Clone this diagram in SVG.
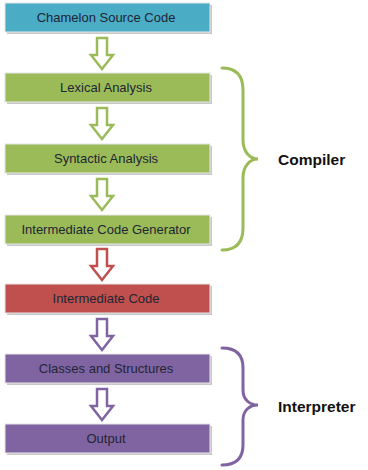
<svg xmlns="http://www.w3.org/2000/svg" width="368" height="470" viewBox="0 0 368 470">
<style>
.box{stroke:#e6e6e6;stroke-width:1}
.sh{fill:#c8c8c8}
.lbl{font-family:"Liberation Sans",Arial,sans-serif;font-size:13px;fill:#1e2633;text-anchor:middle}
.side{font-family:"Liberation Sans",Arial,sans-serif;font-size:15.5px;font-weight:bold;fill:#111}
.arr{fill:#fff;stroke-width:2.5;stroke-linejoin:miter}
.brace{fill:none;stroke-width:3;stroke-linecap:round}
</style>
<g id="n1"><rect class="sh" x="7" y="5" width="205" height="29"/><rect class="box" x="5" y="3" width="205" height="29" fill="#4BACC6"/><text class="lbl" x="106" y="22">Chamelon Source Code</text></g>
<g id="n2"><rect class="sh" x="7" y="75" width="205" height="29"/><rect class="box" x="5" y="73" width="205" height="29" fill="#9BBB59"/><text class="lbl" x="106" y="92">Lexical Analysis</text></g>
<g id="n3"><rect class="sh" x="7" y="146" width="205" height="29"/><rect class="box" x="5" y="144" width="205" height="29" fill="#9BBB59"/><text class="lbl" x="106" y="163">Syntactic Analysis</text></g>
<g id="n4"><rect class="sh" x="7" y="217" width="205" height="29"/><rect class="box" x="5" y="215" width="205" height="29" fill="#9BBB59"/><text class="lbl" x="106" y="234">Intermediate Code Generator</text></g>
<g id="n5"><rect class="sh" x="7" y="286" width="205" height="29"/><rect class="box" x="5" y="284" width="205" height="29" fill="#C0504D"/><text class="lbl" x="106" y="303">Intermediate Code</text></g>
<g id="n6"><rect class="sh" x="7" y="356" width="205" height="29"/><rect class="box" x="5" y="354" width="205" height="29" fill="#8064A2"/><text class="lbl" x="106" y="373">Classes and Structures</text></g>
<g id="n7"><rect class="sh" x="7" y="426" width="205" height="29"/><rect class="box" x="5" y="424" width="205" height="29" fill="#8064A2"/><text class="lbl" x="106" y="443">Output</text></g>
<g id="connectors">
<polygon class="arr" stroke="#9BBB59" points="97,38 107,38 107,55 113,55 102,69 91,55 97,55"/>
<polygon class="arr" stroke="#9BBB59" points="97,108 107,108 107,125 113,125 102,139 91,125 97,125"/>
<polygon class="arr" stroke="#9BBB59" points="97,179 107,179 107,196 113,196 102,210 91,196 97,196"/>
<polygon class="arr" stroke="#C0504D" points="97,249 107,249 107,266 113,266 102,280 91,266 97,266"/>
<polygon class="arr" stroke="#8064A2" points="97,319 107,319 107,336 113,336 102,350 91,336 97,336"/>
<polygon class="arr" stroke="#8064A2" points="97,389 107,389 107,406 113,406 102,420 91,406 97,406"/>
</g>
<g id="compiler">
<path class="brace" stroke="#9BBB59" d="M222,68 C236,68 243,75 243,90 L243,140 C243,152 250,159 258,159 C250,159 243,166 243,178 L243,228 C243,243 236,250 222,250"/>
<text class="side" x="278" y="165">Compiler</text>
</g>
<g id="interpreter">
<path class="brace" stroke="#8064A2" d="M222,348 C236,348 243,355 243,368 L243,390 C243,400 250,405 258,405 C250,405 243,410 243,420 L243,445 C243,458 236,465 222,465"/>
<text class="side" x="278" y="412">Interpreter</text>
</g>
</svg>
